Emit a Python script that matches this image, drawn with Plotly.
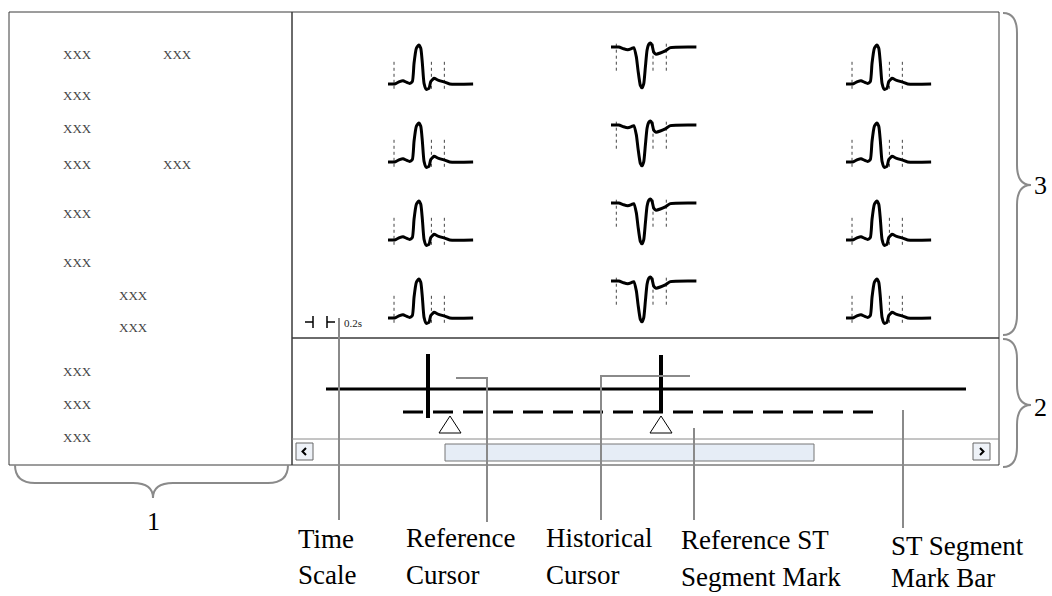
import plotly.graph_objects as go

W, H = 1052, 596

# ---------------- data ----------------
# averaged ST template beats, time (ms) from template start, amplitude (mV)
UPRIGHT_MS = [0, 95, 165, 215, 262, 310, 348, 372, 405, 439, 468, 491, 515, 548, 586, 611, 658, 715, 811, 882, 1216]
UPRIGHT_MV = [0, 0, 0.08, 0.11, 0.06, 0.02, 0.08, 0.69, 1.19, 1.30, 1.19, 0.69, 0.02, -0.18, -0.14, 0.08, 0.19, 0.13, 0.06, 0, 0]
INVERTED_MS = [0, 110, 180, 240, 285, 325, 362, 386, 419, 443, 468, 491, 515, 539, 562, 586, 610, 644, 705, 776, 848, 1220]
INVERTED_MV = [0, 0, -0.06, -0.09, -0.06, -0.02, -0.33, -0.78, -1.28, -1.36, -1.22, -0.67, -0.11, 0.09, 0.13, 0.06, -0.17, -0.24, -0.20, -0.13, -0.02, 0]
# ISO / J / ST measurement points (ms)
UPRIGHT_MARKS_MS = [86, 620, 805]
INVERTED_MARKS_MS = [76, 600, 790]
UPRIGHT_MARK_SPAN_MV = [0.74, -0.26]
INVERTED_MARK_SPAN_MV = [0.11, -0.83]
COLUMN_BEATS = ["upright", "inverted", "upright"]
LEADS_PER_COLUMN = 4

TIME_SCALE_MS = 200
TIME_SCALE_LABEL = "0.2s"

INFO_TEXT = ["XXX"] * 13
CALLOUT_TEXT = [("Time", "Scale"), ("Reference", "Cursor"), ("Historical", "Cursor"),
                ("Reference ST", "Segment Mark"), ("ST Segment", "Mark Bar")]
SECTION_NUMBERS = ["1", "2", "3"]

# ---------------- layout constants (pixels) ----------------
PX_PER_MS = 0.07
PX_PER_MV = 30
COL_X0 = [388, 611, 846]
ROW_BASE = [84, 162, 240, 318]
INV_SHIFT = -37
INFO_XY = [(77, 54), (177, 54), (77, 95), (77, 128), (77, 164), (177, 164), (77, 213),
           (77, 262), (133, 295), (133, 327), (77, 371), (77, 404), (77, 437)]
BOX = '#3a3a3a'
GRAY = '#8a8a8a'
SERIF = 'Liberation Serif'

fig = go.Figure()


def line(xs, ys, color='black', width=1.0, dash=None, shape='linear', smoothing=None):
    ln = dict(color=color, width=width, dash=dash, shape=shape)
    if smoothing is not None:
        ln['smoothing'] = smoothing
    fig.add_trace(go.Scatter(x=xs, y=ys, mode='lines', hoverinfo='skip', showlegend=False, line=ln))


# ---- panels ----
shapes = []


def rect(x0, y0, x1, y1, color=BOX, fill='rgba(0,0,0,0)', width=1):
    shapes.append(dict(type='rect', x0=x0, y0=y0, x1=x1, y1=y1, xref='x', yref='y',
                       line=dict(color=color, width=width), fillcolor=fill, layer='below'))


rect(9, 12, 292, 465)
rect(292, 12, 999, 338)
rect(292, 338, 999, 465)
line([292, 999], [439, 439], color=GRAY, width=1)

# ---- template beats ----
for c, kind in enumerate(COLUMN_BEATS):
    t, v = (UPRIGHT_MS, UPRIGHT_MV) if kind == 'upright' else (INVERTED_MS, INVERTED_MV)
    marks = UPRIGHT_MARKS_MS if kind == 'upright' else INVERTED_MARKS_MS
    span = UPRIGHT_MARK_SPAN_MV if kind == 'upright' else INVERTED_MARK_SPAN_MV
    for r in range(LEADS_PER_COLUMN):
        base = ROW_BASE[r] + (INV_SHIFT if kind == 'inverted' else 0)
        x0 = COL_X0[c]
        for m in marks:
            xm = x0 + m * PX_PER_MS
            line([xm, xm], [base - span[0] * PX_PER_MV, base - span[1] * PX_PER_MV],
                 color='#444', width=1, dash='dot')
        line([x0 + ti * PX_PER_MS for ti in t], [base - vi * PX_PER_MV for vi in v],
             color='black', width=3, shape='spline', smoothing=0.5)

# ---- time scale mark ----
ts_x0 = 313
ts_x1 = ts_x0 + TIME_SCALE_MS * PX_PER_MS
line([305, ts_x0, None, ts_x0, ts_x0], [322, 322, None, 316, 328], width=1.5)
line([ts_x1, ts_x1 + 8, None, ts_x1, ts_x1], [322, 322, None, 316, 328], width=1.5)

# ---- ST segment mark bar ----
line([326, 966], [389, 389], width=3)
line([403, 883], [412, 412], width=3, dash='20px,10px')
for cx, top, bot in [(428, 354, 418), (661, 355, 413)]:
    line([cx, cx], [top, bot], width=4)
for ax in [450, 661]:
    fig.add_trace(go.Scatter(x=[ax, ax - 11, ax + 11, ax], y=[416, 433, 433, 416], mode='lines',
                             fill='toself', fillcolor='white', hoverinfo='skip', showlegend=False,
                             line=dict(color='black', width=1)))

# ---- scroll bar ----
rect(296, 443, 313, 460, color='#666', fill='#eef2f8')
rect(973, 443, 990, 460, color='#666', fill='#eef2f8')
rect(445, 444, 814, 461, color='#777', fill='#e6edf6')
shapes.append(dict(type='path', path='M 306,448 L 302.5,451.5 L 306,455', xref='x', yref='y',
                   line=dict(color='black', width=2)))
shapes.append(dict(type='path', path='M 980,448 L 983.5,451.5 L 980,455', xref='x', yref='y',
                   line=dict(color='black', width=2)))

# ---- callout leaders ----
line([339, 339], [318, 520], color=GRAY, width=2)
line([456, 487, 487], [378, 378, 522], color=GRAY, width=2)
line([690, 601, 601], [376, 376, 520], color=GRAY, width=2)
line([694, 694], [428, 520], color=GRAY, width=2)
line([903, 903], [410, 528], color=GRAY, width=2)


# ---- braces ----
def brace_h(x0, x1, y0, xm, spine, tip, r=20):
    return (f"M {x0},{y0} Q {x0},{spine} {x0 + r},{spine} L {xm - r},{spine} "
            f"Q {xm},{spine} {xm},{tip} Q {xm},{spine} {xm + r},{spine} "
            f"L {x1 - r},{spine} Q {x1},{spine} {x1},{y0}")


def brace_v(y0, y1, x0, ym, spine, tip, r=20):
    return (f"M {x0},{y0} Q {spine},{y0} {spine},{y0 + r} L {spine},{ym - r} "
            f"Q {spine},{ym} {tip},{ym} Q {spine},{ym} {spine},{ym + r} "
            f"L {spine},{y1 - r} Q {spine},{y1} {x0},{y1}")


for p in [brace_h(15, 288, 465, 153, 483, 498),
          brace_v(13, 335, 1003, 185, 1017, 1031),
          brace_v(339, 467, 1003, 405, 1017, 1031)]:
    shapes.append(dict(type='path', path=p, xref='x', yref='y', line=dict(color=GRAY, width=2)))

# ---- text ----
ann = []
for txt, (x, y) in zip(INFO_TEXT, INFO_XY):
    ann.append(dict(x=x, y=y, text=txt, showarrow=False, font=dict(family=SERIF, size=13, color='#444')))

ann.append(dict(x=342, y=323, text=TIME_SCALE_LABEL, xanchor='left', showarrow=False,
                font=dict(family=SERIF, size=11, color='#222')))

callout_pos = [(297, 539, 575, 27), (405, 538, 575, 27), (545, 538, 575, 27),
               (680, 540, 577, 27), (890, 546, 578, 27)]
for (l1, l2), (x, y1, y2, fs) in zip(CALLOUT_TEXT, callout_pos):
    for t, y in [(l1, y1), (l2, y2)]:
        ann.append(dict(x=x, y=y, text=t, xanchor='left', showarrow=False, borderpad=0,
                        font=dict(family=SERIF, size=fs, color='black')))

for t, (x, y) in zip(SECTION_NUMBERS, [(153, 521), (1040, 407), (1040, 185)]):
    ann.append(dict(x=x, y=y, text=t, showarrow=False, font=dict(family=SERIF, size=26, color='black')))

fig.update_layout(
    width=W, height=H,
    margin=dict(l=0, r=0, t=0, b=0),
    paper_bgcolor='white', plot_bgcolor='white',
    xaxis=dict(range=[0, W], visible=False, fixedrange=True),
    yaxis=dict(range=[H, 0], visible=False, fixedrange=True),
    shapes=shapes,
    annotations=ann,
    showlegend=False,
)

fig.write_html("out.html", config={'displayModeBar': False},
               post_script="document.body.style.margin='0px';")
